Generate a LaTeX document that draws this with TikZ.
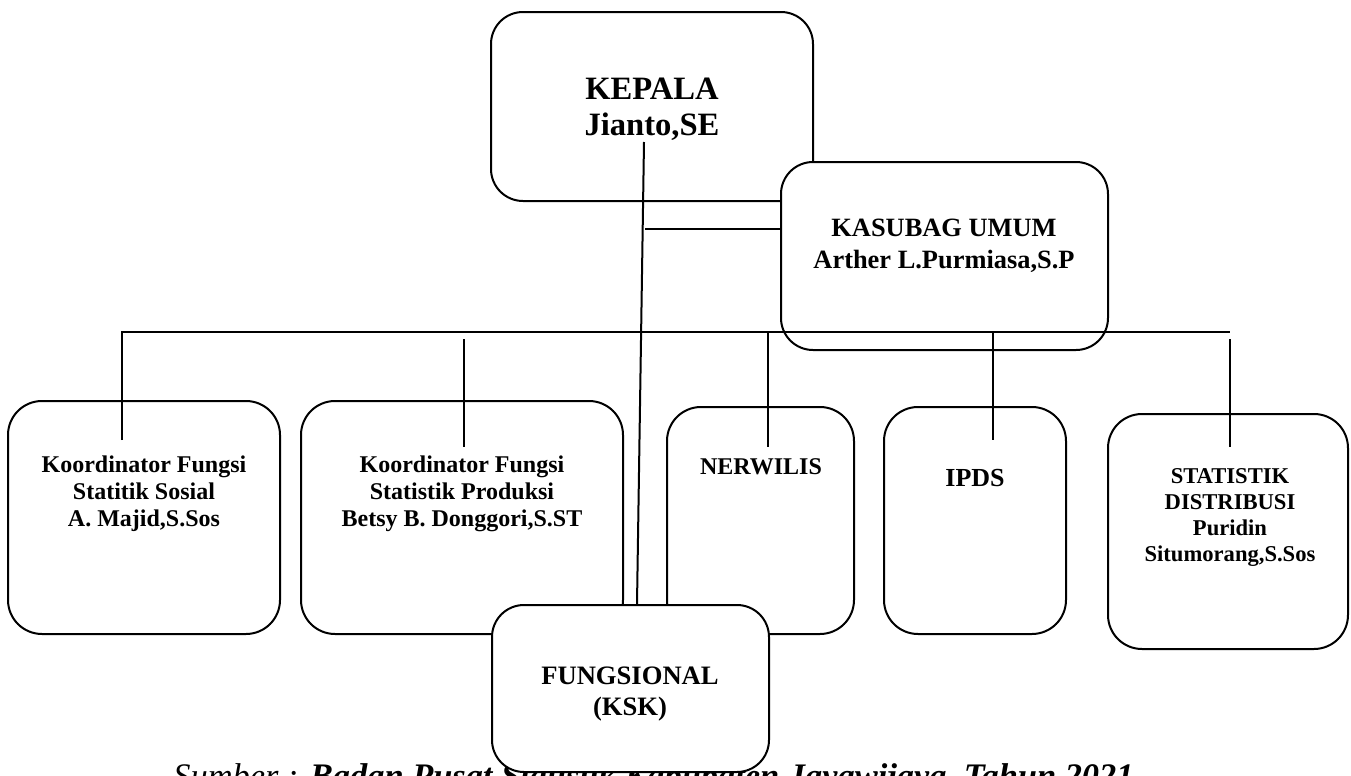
\documentclass[tikz,border=0pt]{standalone}
\usepackage{fontspec}
\setmainfont{Liberation Serif}
\usetikzlibrary{calc}
\newcommand{\orgfont}[2]{\fontsize{#1}{#2}\selectfont\bfseries}
\tikzset{
  unit/.style={draw, line width=1pt, rounded corners=16pt, fill=white, inner sep=0pt},
  conn/.style={line width=1pt},
  lbl/.style={align=center, inner sep=0pt},
}

\begin{document}
\begin{tikzpicture}[x=0.5pt, y=-0.5pt]
  \clip (0,0) rectangle (1351,776);
  % source line, partly hidden under the bottom box
  \node[anchor=base] (sumber) at (653.5,787) {\fontsize{17.2}{20}\selectfont\itshape Sumber : \textbf{Badan Pusat Statistik Kabupaten Jayawijaya, Tahun 2021}};

  % top level
  \node[unit, minimum width=161pt, minimum height=94.5pt] (kepala) at (652,106.5) {};
  \node[unit, minimum width=163.5pt, minimum height=94pt] (kasubag) at (944.5,256) {};
  \node[lbl, font=\orgfont{16.3}{18}] (kepala-t) at (652,109) {KEPALA\\Jianto,SE};
  \node[lbl, font=\orgfont{13.2}{16}] (kasubag-t) at (944,245.5) {KASUBAG UMUM\\Arther L.Purmiasa,S.P};

  % lower level
  \node[unit, rounded corners=17pt, minimum width=136pt, minimum height=116.5pt] (sosial) at (144,517.5) {};
  \node[unit, rounded corners=17pt, minimum width=161pt, minimum height=116.5pt] (produksi) at (462,517.5) {};
  \node[unit, rounded corners=17pt, minimum width=93.5pt, minimum height=113.5pt] (nerwilis) at (760.5,520.5) {};
  \node[unit, rounded corners=17pt, minimum width=91pt, minimum height=113.5pt] (ipds) at (975,520.5) {};
  \node[unit, rounded corners=17pt, minimum width=120pt, minimum height=117.5pt] (distribusi) at (1228,531.5) {};
  \node[lbl, font=\orgfont{12}{13.5}] (sosial-t) at (144,493.5) {Koordinator Fungsi\\Statitik Sosial\\A. Majid,S.Sos};
  \node[lbl, font=\orgfont{12}{13.5}] (produksi-t) at (462,493.5) {Koordinator Fungsi\\Statistik Produksi\\Betsy B. Donggori,S.ST};
  \node[lbl, font=\orgfont{12}{13.5}] (nerwilis-t) at (761,467) {NERWILIS};
  \node[lbl, font=\orgfont{13}{15}] (ipds-t) at (975,478) {IPDS};
  \node[lbl, font=\orgfont{11.3}{13}] (distribusi-t) at (1230,518) {STATISTIK\\DISTRIBUSI\\Puridin\\Situmorang,S.Sos};

  % fungsional sits over the others
  \node[unit, minimum width=138.5pt, minimum height=83.5pt] (fung) at (630.5,688.5) {};
  \node[lbl, font=\orgfont{13.3}{15.5}] (fung-t) at (630,694) {FUNGSIONAL\\(KSK)};

  % lines
  \coordinate (kt) at (644,142);
  \coordinate (kb) at (645,229);
  \draw[conn] (kt) -- ($(fung.north)+(6.5,0)$);
  \draw[conn] (kb) -- (kb -| kasubag.west);
  \coordinate (busL) at (122,332);
  \coordinate (busR) at (1230,332);
  \coordinate (sosial-dn) at (122,440);
  \draw[conn] (sosial-dn) -- (busL) -- (busR);
  \foreach \n/\x/\a/\b in {produksi/464/339/447, nerwilis/768/332/447, ipds/993/332/440, distribusi/1230/339/447}{
    \coordinate (\n-up) at (\x,\a);
    \coordinate (\n-dn) at (\x,\b);
    \draw[conn] (\n-up) -- (\n-dn);
  }
\end{tikzpicture}
\end{document}
